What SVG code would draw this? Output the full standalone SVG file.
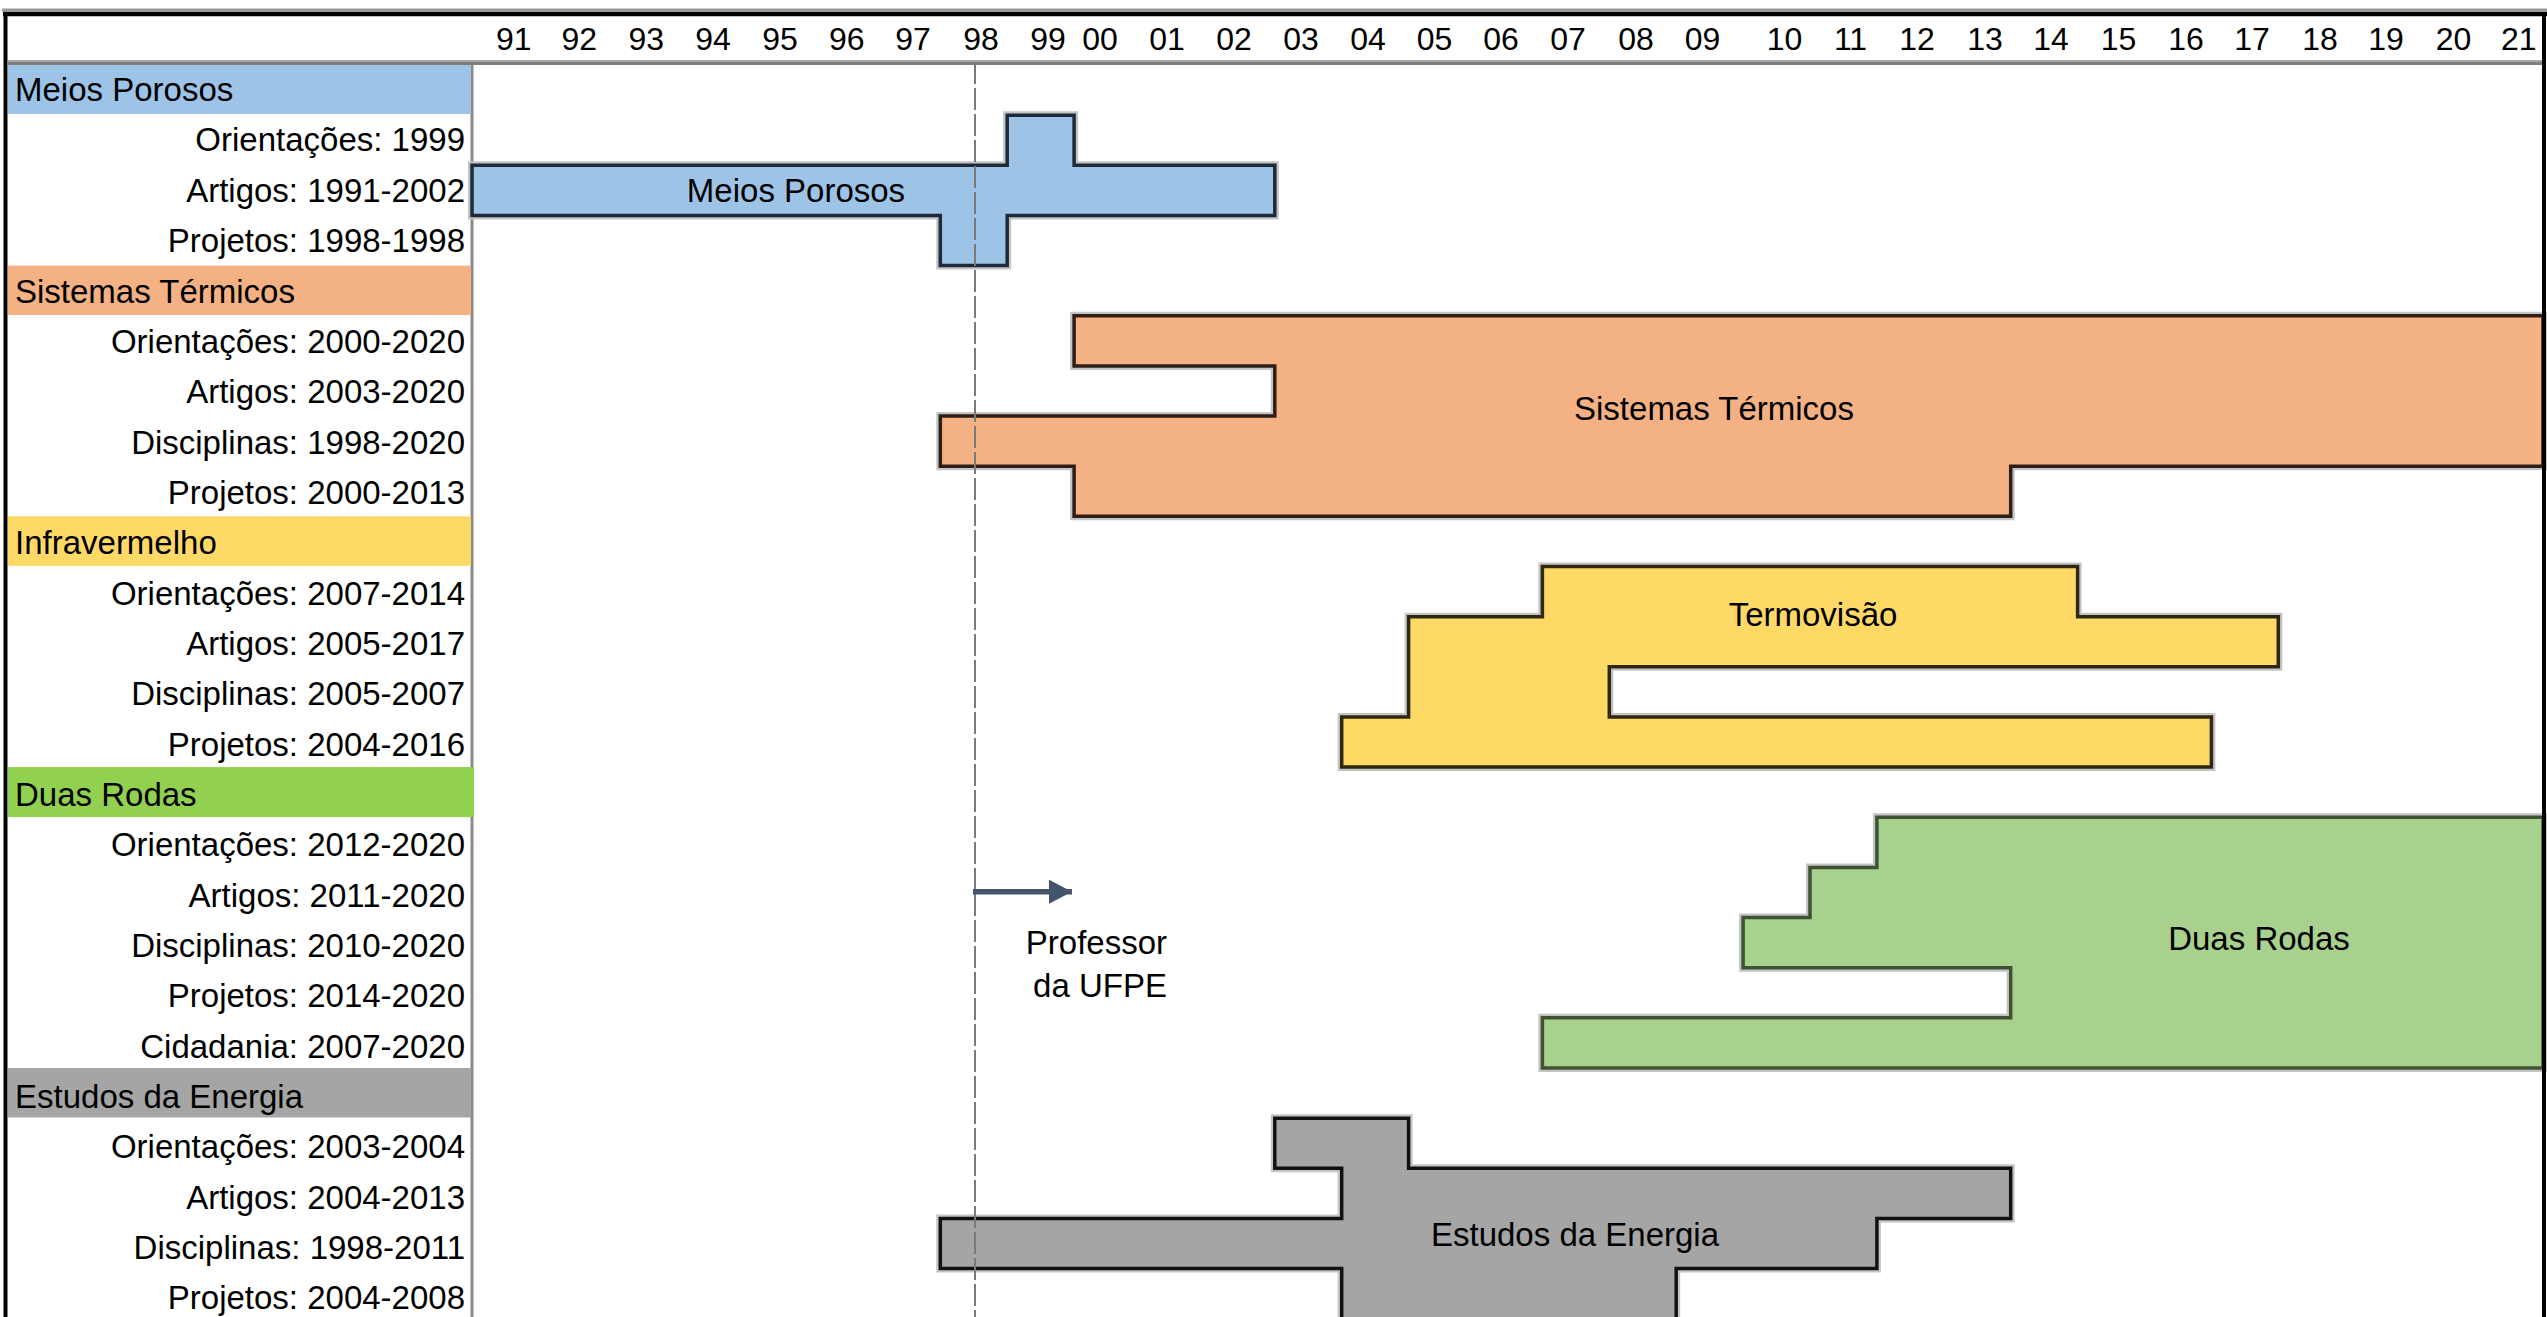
<svg xmlns="http://www.w3.org/2000/svg" width="2547" height="1317" viewBox="0 0 2547 1317">
<style>
text{font-family:"Liberation Sans",Arial,sans-serif;fill:#000}
.yr{font-size:32px;text-anchor:middle}
.lbl{font-size:33px;text-anchor:end}
.hd{font-size:33px}
.bl{font-size:33px;text-anchor:middle}
.halo{fill:none;stroke:#c4c4c4;stroke-width:8;stroke-linejoin:miter}
.bar{stroke-width:3.5;stroke-linejoin:miter}
</style>
<defs>
<marker id="arr" markerUnits="userSpaceOnUse" markerWidth="26" markerHeight="26" refX="23" refY="12" orient="auto">
<path d="M0,0 L23,12 L0,24 Z" fill="#44546A"/>
</marker>
</defs>
<rect x="0" y="0" width="2547" height="1317" fill="#fff"/>

<g id="frame">
<line x1="8" y1="61" x2="2543" y2="61" stroke="#a6a6a6" stroke-width="2"/>
<line x1="8" y1="63.5" x2="2543" y2="63.5" stroke="#7f7f7f" stroke-width="3"/>
<line x1="472" y1="65" x2="472" y2="1317" stroke="#8a8a8a" stroke-width="3"/>
</g>

<g id="years">
<text class="yr" x="513.7" y="50">91</text>
<text class="yr" x="579.2" y="50">92</text>
<text class="yr" x="646.3" y="50">93</text>
<text class="yr" x="713" y="50">94</text>
<text class="yr" x="780" y="50">95</text>
<text class="yr" x="846.7" y="50">96</text>
<text class="yr" x="913" y="50">97</text>
<text class="yr" x="981" y="50">98</text>
<text class="yr" x="1048" y="50">99</text>
<text class="yr" x="1100" y="50">00</text>
<text class="yr" x="1167" y="50">01</text>
<text class="yr" x="1234" y="50">02</text>
<text class="yr" x="1301" y="50">03</text>
<text class="yr" x="1368" y="50">04</text>
<text class="yr" x="1434.5" y="50">05</text>
<text class="yr" x="1501" y="50">06</text>
<text class="yr" x="1568" y="50">07</text>
<text class="yr" x="1636" y="50">08</text>
<text class="yr" x="1702.5" y="50">09</text>
<text class="yr" x="1784.5" y="50">10</text>
<text class="yr" x="1850.5" y="50">11</text>
<text class="yr" x="1917" y="50">12</text>
<text class="yr" x="1985" y="50">13</text>
<text class="yr" x="2051" y="50">14</text>
<text class="yr" x="2118.6" y="50">15</text>
<text class="yr" x="2186" y="50">16</text>
<text class="yr" x="2252" y="50">17</text>
<text class="yr" x="2320" y="50">18</text>
<text class="yr" x="2386" y="50">19</text>
<text class="yr" x="2453.5" y="50">20</text>
<text class="yr" x="2518.7" y="50">21</text>
</g>

<g id="labels-meios">
<rect x="8" y="65" width="463" height="49" fill="#9DC3E6"/>
<text class="hd" x="15" y="101">Meios Porosos</text>
<text class="lbl" x="465" y="151">Orientações: 1999</text>
<text class="lbl" x="465" y="201.5">Artigos: 1991-2002</text>
<text class="lbl" x="465" y="252">Projetos: 1998-1998</text>
</g>
<g id="labels-sistemas">
<rect x="8" y="265.6" width="463" height="49.5" fill="#F4B183"/>
<text class="hd" x="15" y="302.5">Sistemas Térmicos</text>
<text class="lbl" x="465" y="353">Orientações: 2000-2020</text>
<text class="lbl" x="465" y="403.3">Artigos: 2003-2020</text>
<text class="lbl" x="465" y="453.6">Disciplinas: 1998-2020</text>
<text class="lbl" x="465" y="504">Projetos: 2000-2013</text>
</g>
<g id="labels-infra">
<rect x="8" y="516.35" width="463" height="49.5" fill="#FFD966"/>
<text class="hd" x="15" y="554.3">Infravermelho</text>
<text class="lbl" x="465" y="604.7">Orientações: 2007-2014</text>
<text class="lbl" x="465" y="655">Artigos: 2005-2017</text>
<text class="lbl" x="465" y="705.3">Disciplinas: 2005-2007</text>
<text class="lbl" x="465" y="755.6">Projetos: 2004-2016</text>
</g>
<g id="labels-duas">
<rect x="8" y="767.1" width="466" height="50" fill="#92D050"/>
<text class="hd" x="15" y="806">Duas Rodas</text>
<text class="lbl" x="465" y="856.4">Orientações: 2012-2020</text>
<text class="lbl" x="465" y="906.7">Artigos: 2011-2020</text>
<text class="lbl" x="465" y="957">Disciplinas: 2010-2020</text>
<text class="lbl" x="465" y="1007.3">Projetos: 2014-2020</text>
<text class="lbl" x="465" y="1057.6">Cidadania: 2007-2020</text>
</g>
<g id="labels-estudos">
<rect x="8" y="1068" width="463" height="49.5" fill="#A5A5A5"/>
<text class="hd" x="15" y="1108">Estudos da Energia</text>
<text class="lbl" x="465" y="1158.4">Orientações: 2003-2004</text>
<text class="lbl" x="465" y="1208.7">Artigos: 2004-2013</text>
<text class="lbl" x="465" y="1259">Disciplinas: 1998-2011</text>
<text class="lbl" x="465" y="1309.3">Projetos: 2004-2008</text>
</g>

<g id="bar-meios">
<path class="halo" d="M1007.2,115.15 H1074.1 V165.3 H1274.8 V215.45 H1007.2 V265.6 H940.3 V215.45 H472 V165.3 H1007.2 Z"/>
<path class="bar" fill="#9DC3E6" stroke="#1f2a38" d="M1007.2,115.15 H1074.1 V165.3 H1274.8 V215.45 H1007.2 V265.6 H940.3 V215.45 H472 V165.3 H1007.2 Z"/>
<text class="bl" x="796" y="201.5">Meios Porosos</text>
</g>
<g id="bar-sistemas">
<path class="halo" d="M1074.1,315.75 H2543 V466.2 H2010.7 V516.35 H1074.1 V466.2 H940.3 V416.05 H1274.8 V365.9 H1074.1 Z"/>
<path class="bar" fill="#F4B183" stroke="#2e1f16" d="M1074.1,315.75 H2543 V466.2 H2010.7 V516.35 H1074.1 V466.2 H940.3 V416.05 H1274.8 V365.9 H1074.1 Z"/>
<text class="bl" x="1714" y="420">Sistemas Térmicos</text>
</g>
<g id="bar-termovisao">
<path class="halo" d="M1542.4,566.5 H2077.6 V616.65 H2278.3 V666.8 H1609.3 V716.95 H2211.4 V767.1 H1341.7 V716.95 H1408.6 V616.65 H1542.4 Z"/>
<path class="bar" fill="#FFD966" stroke="#2e2812" d="M1542.4,566.5 H2077.6 V616.65 H2278.3 V666.8 H1609.3 V716.95 H2211.4 V767.1 H1341.7 V716.95 H1408.6 V616.65 H1542.4 Z"/>
<text class="bl" x="1813" y="626">Termovisão</text>
</g>
<g id="bar-duas">
<path class="halo" d="M1876.9,817.25 H2543 V1068 H1542.4 V1017.85 H2010.7 V967.7 H1743.1 V917.55 H1810 V867.4 H1876.9 Z"/>
<path class="bar" fill="#A9D18E" stroke="#3f5233" d="M1876.9,817.25 H2543 V1068 H1542.4 V1017.85 H2010.7 V967.7 H1743.1 V917.55 H1810 V867.4 H1876.9 Z"/>
<text class="bl" x="2259" y="950">Duas Rodas</text>
</g>
<g id="bar-estudos">
<path class="halo" d="M1274.8,1118.15 H1408.6 V1168.3 H2010.7 V1218.45 H1876.9 V1268.6 H1676.2 V1330 H1341.7 V1268.6 H940.3 V1218.45 H1341.7 V1168.3 H1274.8 Z"/>
<path class="bar" fill="#A5A5A5" stroke="#111" d="M1274.8,1118.15 H1408.6 V1168.3 H2010.7 V1218.45 H1876.9 V1268.6 H1676.2 V1330 H1341.7 V1268.6 H940.3 V1218.45 H1341.7 V1168.3 H1274.8 Z"/>
<text class="bl" x="1575" y="1246">Estudos da Energia</text>
</g>

<g id="ufpe-line">
<line x1="975" y1="62" x2="975" y2="1317" stroke="#7a7a7a" stroke-width="2" stroke-dasharray="22 4"/>
</g>

<g id="connectors">
<line x1="973" y1="891.7" x2="1072" y2="891.7" stroke="#44546A" stroke-width="5.5" marker-end="url(#arr)"/>
</g>

<g id="note-professor">
<text class="lbl" x="1167" y="954">Professor</text>
<text class="lbl" x="1167" y="997">da UFPE</text>
</g>

<g id="border">
<line x1="2" y1="10" x2="2547" y2="10" stroke="#9a9a9a" stroke-width="3"/>
<line x1="3" y1="14" x2="2547" y2="14" stroke="#000" stroke-width="4.5"/>
<line x1="5.5" y1="12" x2="5.5" y2="1317" stroke="#000" stroke-width="4"/>
<line x1="2544" y1="12" x2="2544" y2="1317" stroke="#000" stroke-width="4"/>
</g>
</svg>
